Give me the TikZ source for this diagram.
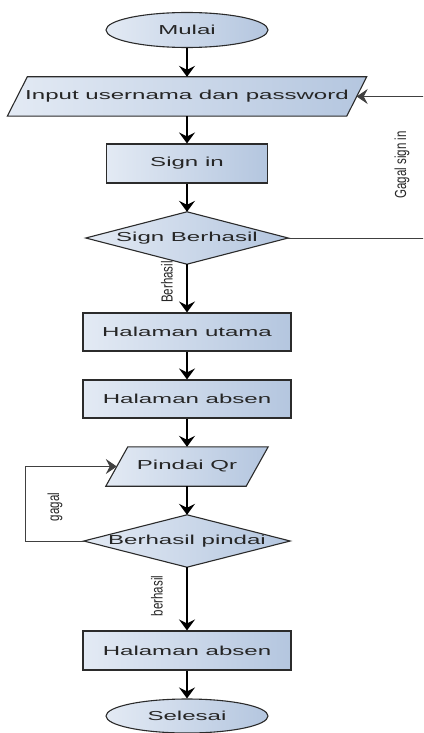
\documentclass[tikz,border=0pt]{standalone}
\usepackage{fontspec}
\newfontfamily\boxfont{Liberation Sans}[FakeStretch=1.85]
\newfontfamily\lblfont{Liberation Sans}[FakeStretch=0.72]
\usetikzlibrary{shapes.geometric,arrows.meta,backgrounds,calc}
\definecolor{fillL}{HTML}{E3EAF4}
\definecolor{fillR}{HTML}{B4C6DF}
\definecolor{edge}{HTML}{2B2B2B}

\begin{document}
\begin{tikzpicture}[x=1pt,y=-1pt,
  shapefill/.style={left color=fillL,right color=fillR,draw=edge,line width=1.1pt},
  txt/.style={font=\boxfont\fontsize{13}{15}\selectfont,text=black!85},
  terminal/.style={shapefill,txt,ellipse,minimum width=162pt,minimum height=35pt,inner sep=0pt},
  process/.style={shapefill,txt,rectangle,minimum width=208pt,minimum height=38pt,inner sep=0pt},
  frame/.style={txt,rectangle,inner sep=0pt},
  flow/.style={line width=1.5pt,-{Stealth[length=11pt,width=16pt,inset=4pt]}},
  loopline/.style={line width=0.9pt,draw=black!75,-{Stealth[length=11pt,width=15pt,inset=4pt]}},
  lbl/.style={font=\lblfont\fontsize{16}{18}\selectfont,rotate=90,inner sep=0pt,text=black!85}]

\useasboundingbox (0,0) rectangle (423,733);
\clip (0,0) rectangle (423,733);

% flowchart nodes
\node[terminal] (start) at (187,30) {Mulai};
\node[frame,minimum width=339pt,minimum height=39pt] (input) at (187,96.5) {Input usernama dan password};
\node[process,minimum width=161pt,minimum height=39pt] (signin) at (187,163.5) {Sign in};
\node[frame,minimum width=202pt,minimum height=52pt] (ok1) at (187,238) {Sign Berhasil};
\node[process] (home) at (187,332) {Halaman utama};
\node[process] (absen) at (187,399) {Halaman absen};
\node[frame,minimum width=140pt,minimum height=39pt] (scan) at (187,466.5) {Pindai Qr};
\node[frame,minimum width=206pt,minimum height=52pt] (ok2) at (187,541) {Berhasil pindai};
\node[process,minimum height=39pt] (done) at (187,650.5) {Halaman absen};
\node[terminal,minimum height=34pt] (stop) at (187,716) {Selesai};

% parallelogram and diamond outlines behind their nodes
\begin{pgfonlayer}{background}
  \path[shapefill] ($(input.north west)+(10,0)$) -- ($(input.north east)+(10,0)$)
        -- ($(input.south east)+(-10,0)$) -- ($(input.south west)+(-10,0)$) -- cycle;
  \path[shapefill] ($(scan.north west)+(11,0)$) -- ($(scan.north east)+(11,0)$)
        -- ($(scan.south east)+(-11,0)$) -- ($(scan.south west)+(-11,0)$) -- cycle;
  \path[shapefill] (ok1.north) -- (ok1.east) -- (ok1.south) -- (ok1.west) -- cycle;
  \path[shapefill] (ok2.north) -- (ok2.east) -- (ok2.south) -- (ok2.west) -- cycle;
\end{pgfonlayer}

% main flow
\draw[flow] (start) -- (input);
\draw[flow] (input) -- (signin);
\draw[flow] (signin) -- (ok1);
\draw[flow] (ok1) -- (home);
\draw[flow] (home) -- (absen);
\draw[flow] (absen) -- (scan);
\draw[flow] (scan) -- (ok2);
\draw[flow] (ok2) -- (done);
\draw[flow] (done) -- (stop);

% loops back on failure
\coordinate (rt) at (440,238);
\draw[loopline] (ok1.east) -- (rt) |- (input.east);
\coordinate (lf) at (25,541);
\draw[loopline] (ok2.west) -- (lf) |- (scan.west);

% branch labels
\node[lbl] (lblA) at (402,165) {Gagal sign in};
\node[lbl] (lblB) at (167,282) {Berhasil};
\node[lbl] (lblC) at (55,507) {gagal};
\node[lbl] (lblD) at (157,596) {berhasil};
\end{tikzpicture}
\end{document}
